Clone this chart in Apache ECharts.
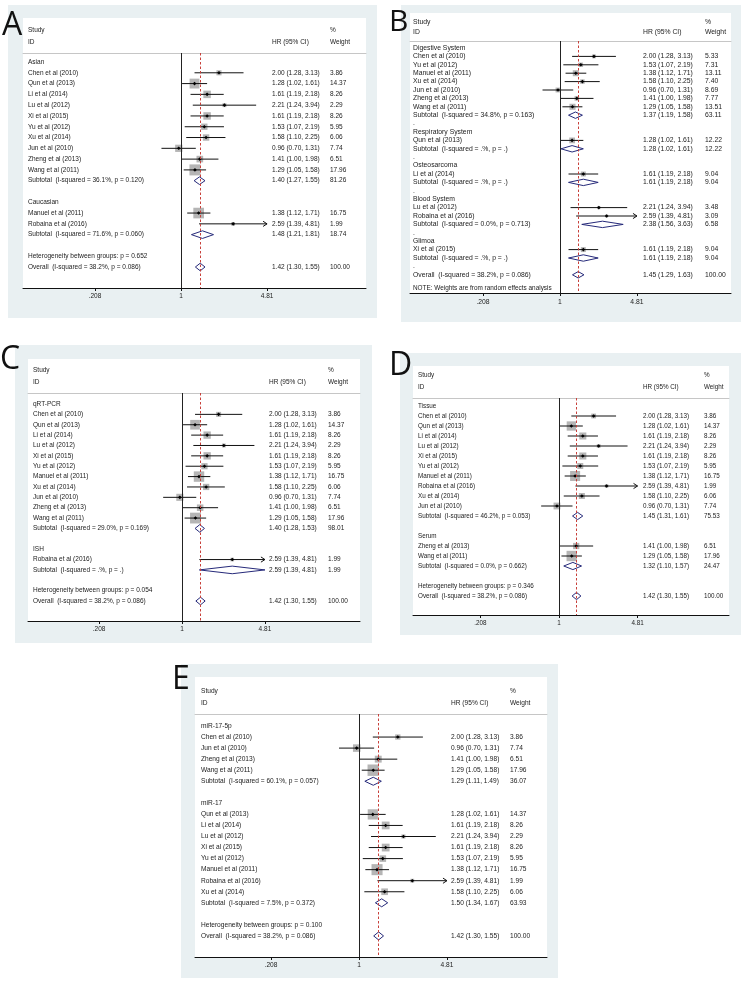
<!DOCTYPE html>
<html><head><meta charset="utf-8">
<script src="https://cdn.jsdelivr.net/npm/echarts/dist/echarts.min.js"></script>
<style>html,body{margin:0;padding:0;background:#fff}#c{width:741px;height:989px}</style>
</head><body><div id="c"></div>
<script>
// ---------- DATA ----------
const tickValues = [0.2079, 1, 4.81];
const tickLabels = ['.208', '1', '4.81'];
const clipHR = 4.81;

// Panel A – ethnicity
const aLabels = ['Asian','Chen et al (2010)','Qun et al (2013)','Li et al (2014)','Lu et al (2012)','Xi et al (2015)','Yu et al (2012)','Xu et al (2014)','Jun et al (2010)','Zheng et al (2013)','Wang et al (2011)','Subtotal  (I-squared = 36.1%, p = 0.120)','','Caucasian','Manuel et al (2011)','Robaina et al (2016)','Subtotal  (I-squared = 71.6%, p = 0.060)','','Heterogeneity between groups: p = 0.652','Overall  (I-squared = 38.2%, p = 0.086)'];
const aHR = [null,2.00,1.28,1.61,2.21,1.61,1.53,1.58,0.96,1.41,1.29,1.40,null,null,1.38,2.59,1.48,null,null,1.42];
const aLo = [null,1.28,1.02,1.19,1.24,1.19,1.07,1.10,0.70,1.00,1.05,1.27,null,null,1.12,1.39,1.21,null,null,1.30];
const aHi = [null,3.13,1.61,2.18,3.94,2.18,2.19,2.25,1.31,1.98,1.58,1.55,null,null,1.71,4.81,1.81,null,null,1.55];
const aW  = [null,3.86,14.37,8.26,2.29,8.26,5.95,6.06,7.74,6.51,17.96,81.26,null,null,16.75,1.99,18.74,null,null,100.00];

// Panel B – cancer system
const bLabels = ['Digestive System','Chen et al (2010)','Yu et al (2012)','Manuel et al (2011)','Xu et al (2014)','Jun et al (2010)','Zheng et al (2013)','Wang et al (2011)','Subtotal  (I-squared = 34.8%, p = 0.163)','.','Respiratory System','Qun et al (2013)','Subtotal  (I-squared = .%, p = .)','.','Osteosarcoma','Li et al (2014)','Subtotal  (I-squared = .%, p = .)','.','Blood System','Lu et al (2012)','Robaina et al (2016)','Subtotal  (I-squared = 0.0%, p = 0.713)','.','Glimoa','Xi et al (2015)','Subtotal  (I-squared = .%, p = .)','.','Overall  (I-squared = 38.2%, p = 0.086)'];
const bHR = [null,2.00,1.53,1.38,1.58,0.96,1.41,1.29,1.37,null,null,1.28,1.28,null,null,1.61,1.61,null,null,2.21,2.59,2.38,null,null,1.61,1.61,null,1.45];
const bLo = [null,1.28,1.07,1.12,1.10,0.70,1.00,1.05,1.19,null,null,1.02,1.02,null,null,1.19,1.19,null,null,1.24,1.39,1.56,null,null,1.19,1.19,null,1.29];
const bHi = [null,3.13,2.19,1.71,2.25,1.31,1.98,1.58,1.58,null,null,1.61,1.61,null,null,2.18,2.18,null,null,3.94,4.81,3.63,null,null,2.18,2.18,null,1.63];
const bW  = [null,5.33,7.31,13.11,7.40,8.69,7.77,13.51,63.11,null,null,12.22,12.22,null,null,9.04,9.04,null,null,3.48,3.09,6.58,null,null,9.04,9.04,null,100.00];
const bNote = 'NOTE: Weights are from random effects analysis';

// Panel C – detection method
const cLabels = ['qRT-PCR','Chen et al (2010)','Qun et al (2013)','Li et al (2014)','Lu et al (2012)','Xi et al (2015)','Yu et al (2012)','Manuel et al (2011)','Xu et al (2014)','Jun et al (2010)','Zheng et al (2013)','Wang et al (2011)','Subtotal  (I-squared = 29.0%, p = 0.169)','','ISH','Robaina et al (2016)','Subtotal  (I-squared = .%, p = .)','','Heterogeneity between groups: p = 0.054','Overall  (I-squared = 38.2%, p = 0.086)'];
const cHR = [null,2.00,1.28,1.61,2.21,1.61,1.53,1.38,1.58,0.96,1.41,1.29,1.40,null,null,2.59,2.59,null,null,1.42];
const cLo = [null,1.28,1.02,1.19,1.24,1.19,1.07,1.12,1.10,0.70,1.00,1.05,1.28,null,null,1.39,1.39,null,null,1.30];
const cHi = [null,3.13,1.61,2.18,3.94,2.18,2.19,1.71,2.25,1.31,1.98,1.58,1.53,null,null,4.81,4.81,null,null,1.55];
const cW  = [null,3.86,14.37,8.26,2.29,8.26,5.95,16.75,6.06,7.74,6.51,17.96,98.01,null,null,1.99,1.99,null,null,100.00];

// Panel D – sample type
const dLabels = ['Tissue','Chen et al (2010)','Qun et al (2013)','Li et al (2014)','Lu et al (2012)','Xi et al (2015)','Yu et al (2012)','Manuel et al (2011)','Robaina et al (2016)','Xu et al (2014)','Jun et al (2010)','Subtotal  (I-squared = 46.2%, p = 0.053)','','Serum','Zheng et al (2013)','Wang et al (2011)','Subtotal  (I-squared = 0.0%, p = 0.662)','','Heterogeneity between groups: p = 0.346','Overall  (I-squared = 38.2%, p = 0.086)'];
const dHR = [null,2.00,1.28,1.61,2.21,1.61,1.53,1.38,2.59,1.58,0.96,1.45,null,null,1.41,1.29,1.32,null,null,1.42];
const dLo = [null,1.28,1.02,1.19,1.24,1.19,1.07,1.12,1.39,1.10,0.70,1.31,null,null,1.00,1.05,1.10,null,null,1.30];
const dHi = [null,3.13,1.61,2.18,3.94,2.18,2.19,1.71,4.81,2.25,1.31,1.61,null,null,1.98,1.58,1.57,null,null,1.55];
const dW  = [null,3.86,14.37,8.26,2.29,8.26,5.95,16.75,1.99,6.06,7.74,75.53,null,null,6.51,17.96,24.47,null,null,100.00];

// Panel E – miRNA type
const eLabels = ['miR-17-5p','Chen et al (2010)','Jun et al (2010)','Zheng et al (2013)','Wang et al (2011)','Subtotal  (I-squared = 60.1%, p = 0.057)','','miR-17','Qun et al (2013)','Li et al (2014)','Lu et al (2012)','Xi et al (2015)','Yu et al (2012)','Manuel et al (2011)','Robaina et al (2016)','Xu et al (2014)','Subtotal  (I-squared = 7.5%, p = 0.372)','','Heterogeneity between groups: p = 0.100','Overall  (I-squared = 38.2%, p = 0.086)'];
const eHR = [null,2.00,0.96,1.41,1.29,1.29,null,null,1.28,1.61,2.21,1.61,1.53,1.38,2.59,1.58,1.50,null,null,1.42];
const eLo = [null,1.28,0.70,1.00,1.05,1.11,null,null,1.02,1.19,1.24,1.19,1.07,1.12,1.39,1.10,1.34,null,null,1.30];
const eHi = [null,3.13,1.31,1.98,1.58,1.49,null,null,1.61,2.18,3.94,2.18,2.19,1.71,4.81,2.25,1.67,null,null,1.55];
const eW  = [null,3.86,7.74,6.51,17.96,36.07,null,null,14.37,8.26,2.29,8.26,5.95,16.75,1.99,6.06,63.93,null,null,100.00];

// ---------- LAYOUT ----------
const panels = [
  {letter:'A', labels:aLabels, hr:aHR, lo:aLo, hi:aHi, w:aW,
   g:{bg:[8,5,377,318], white:[23,18,366,288], headerLine:53, row0:62, step:10.79, x1:181, ppl:54.8, font:6.5, sq:2.6, dh:3.8,
      studyY:30, idY:42, hrX:272, wX:330, nameX:28, tickMargin:5, letter:[2,10,32]}},
  {letter:'B', labels:bLabels, hr:bHR, lo:bLo, hi:bHi, w:bW, note:bNote,
   g:{bg:[401,5,741,322], white:[410,13,731,293], headerLine:41, row0:48, step:8.4, x1:560, ppl:49, font:6.8, sq:1.65, dh:3.2,
      studyY:22, idY:32, hrX:643, wX:705, nameX:413, tickMargin:6, noteY:288, letter:[389,7,30]}},
  {letter:'C', labels:cLabels, hr:cHR, lo:cLo, hi:cHi, w:cW,
   g:{bg:[15,345,372,643], white:[28,359,360,621], headerLine:393, row0:404, step:10.37, x1:182, ppl:52.8, font:6.5, sq:2.55, dh:3.8,
      studyY:370, idY:382, hrX:269, wX:328, nameX:33, tickMargin:5, letter:[0,344,32]}},
  {letter:'D', labels:dLabels, hr:dHR, lo:dLo, hi:dHi, w:dW,
   g:{bg:[400,353,741,635], white:[413,366,729,615], headerLine:398, row0:406, step:10.0, x1:559, ppl:50, font:6.3, sq:2.45, dh:3.6,
      studyY:375, idY:387, hrX:643, wX:704, nameX:418, tickMargin:5, letter:[389,350,32]}},
  {letter:'E', labels:eLabels, hr:eHR, lo:eLo, hi:eHi, w:eW,
   g:{bg:[181,664,558,978], white:[195,677,547,957], headerLine:714, row0:726, step:11.05, x1:359, ppl:56, font:6.6, sq:2.7, dh:4,
      studyY:691, idY:703, hrX:451, wX:510, nameX:201, tickMargin:5, letter:[172,664,32]}}
];

const W = 741, H = 989;
const FONT = '"Liberation Sans", Arial, Helvetica, sans-serif';
const TXT = '#222';
const option = {animation:false, grid:[], xAxis:[], yAxis:[], series:[], graphic:[]};

function tickLabel(v){
  let best = 0, bd = Infinity;
  tickValues.forEach((t,i)=>{ const d = Math.abs(Math.log(v) - Math.log(t)); if (d < bd){bd = d; best = i;} });
  return tickLabels[best];
}

panels.forEach((p, k) => {
  const g = p.g;
  const [wx0, wy0, wx1, wy1] = g.white;
  const [bx0, by0, bx1, by1] = g.bg;

  // backgrounds
  option.graphic.push({type:'rect', z:-20, shape:{x:bx0, y:by0, width:bx1-bx0, height:by1-by0}, style:{fill:'#e9f0f2'}});
  option.graphic.push({type:'rect', z:-19, shape:{x:wx0, y:wy0, width:wx1-wx0, height:wy1-wy0}, style:{fill:'#ffffff'}});
  // panel letter
  option.graphic.push({type:'text', z:50, x:g.letter[0], y:g.letter[1],
    style:{text:p.letter, font:'normal ' + g.letter[2] + 'px "Open Sans", "Liberation Sans", sans-serif', fill:'#111', align:'left', verticalAlign:'top'}});
  // header texts
  const hf = 'normal ' + g.font + 'px ' + FONT;
  const hdr = [['Study', g.nameX, g.studyY], ['ID', g.nameX, g.idY], ['HR (95% CI)', g.hrX, g.idY], ['%', g.wX, g.studyY], ['Weight', g.wX, g.idY]];
  hdr.forEach(h => option.graphic.push({type:'text', z:50, x:h[1], y:h[2], style:{text:h[0], font:hf, fill:TXT, align:'left', verticalAlign:'middle'}}));
  if (p.note) option.graphic.push({type:'text', z:50, x:g.nameX, y:g.noteY, style:{text:p.note, font:'normal ' + (g.font - 0.4) + 'px ' + FONT, fill:TXT, align:'left', verticalAlign:'middle'}});

  option.grid.push({left:wx0, right:W - wx1, top:g.headerLine, bottom:H - wy1, containLabel:false});
  const xmin = Math.exp((wx0 - g.x1) / g.ppl), xmax = Math.exp((wx1 - g.x1) / g.ppl);
  const xBase = option.xAxis.length;
  option.xAxis.push({gridIndex:k, type:'log', logBase:4.81, min:xmin, max:xmax, position:'bottom',
    axisLine:{onZero:false, lineStyle:{color:'#111', width:1}},
    axisTick:{show:true, customValues:tickValues, length:3, lineStyle:{color:'#111', width:1}},
    axisLabel:{customValues:tickValues, formatter:tickLabel, margin:g.tickMargin, fontSize:g.font, fontFamily:FONT, color:TXT},
    splitLine:{show:false}, minorTick:{show:false}});
  option.xAxis.push({gridIndex:k, type:'log', logBase:4.81, min:xmin, max:xmax, position:'top',
    axisLine:{onZero:false, lineStyle:{color:'#c6c6c6', width:1}}, axisTick:{show:false}, axisLabel:{show:false}, splitLine:{show:false}});

  const ymin = -(g.row0 - g.headerLine) / g.step, ymax = (wy1 - g.row0) / g.step;
  const hrText = p.hr.map((v,i) => v == null ? '' : v.toFixed(2) + ' (' + p.lo[i].toFixed(2) + ', ' + p.hi[i].toFixed(2) + ')');
  const wText = p.w.map(v => v == null ? '' : v.toFixed(2));
  const cols = [
    {texts:p.labels, position:'left', inside:true, margin:g.nameX - wx0, offset:0},
    {texts:hrText, position:'right', inside:false, margin:0, offset:-(wx1 - g.hrX)},
    {texts:wText, position:'right', inside:false, margin:0, offset:-(wx1 - g.wX)}
  ];
  const yBase = option.yAxis.length;
  cols.forEach(c => {
    const idx = [];
    c.texts.forEach((t,i) => { if (t) idx.push(i); });
    option.yAxis.push({gridIndex:k, type:'value', inverse:true, min:ymin, max:ymax, position:c.position, offset:c.offset,
      axisLine:{show:false, onZero:false}, axisTick:{show:false}, splitLine:{show:false},
      axisLabel:{inside:c.inside, align:'left', margin:c.margin, customValues:idx,
        formatter:(v) => c.texts[Math.round(v)] || '', fontSize:g.font, fontFamily:FONT, color:TXT}});
  });

  const data = [];
  p.hr.forEach((v,i) => {
    if (v == null) return;
    const pooled = /^(Subtotal|Overall)/.test(p.labels[i]) ? 1 : 0;
    data.push([v, i, p.lo[i], p.hi[i], p.w[i], pooled]);
  });
  const overall = p.hr[p.hr.length - 1];

  option.series.push({
    type:'custom', xAxisIndex:xBase, yAxisIndex:yBase, clip:false,
    dimensions:['hr','row','lo','hi','w','pooled'],
    encode:{x:[0,2,3], y:1},
    data:data,
    renderItem:(params, api) => {
      const hr = api.value(0), row = api.value(1), lo = api.value(2), hi = api.value(3), w = api.value(4), pooled = api.value(5);
      const pc = api.coord([hr, row]);
      const pl = api.coord([lo, row]);
      const hiC = Math.min(hi, clipHR);
      const ph = api.coord([hiC, row]);
      const y = pc[1];
      if (pooled === 1) {
        return {type:'polygon', shape:{points:[[pl[0],y],[pc[0],y-g.dh],[ph[0],y],[pc[0],y+g.dh]]},
          style:{fill:'none', stroke:'#262a7a', lineWidth:1}};
      }
      const s = g.sq * Math.sqrt(w);
      const children = [
        {type:'rect', shape:{x:pc[0]-s/2, y:y-s/2, width:s, height:s}, style:{fill:'#b5b5b5'}},
        {type:'line', shape:{x1:pl[0], y1:y, x2:ph[0], y2:y}, style:{stroke:'#111', lineWidth:1}},
        {type:'polygon', shape:{points:[[pc[0]-1.8,y],[pc[0],y-1.8],[pc[0]+1.8,y],[pc[0],y+1.8]]}, style:{fill:'#000'}}
      ];
      if (hi >= clipHR) {
        children.push({type:'polyline', shape:{points:[[ph[0]-4,y-2.6],[ph[0],y],[ph[0]-4,y+2.6]]}, style:{stroke:'#111', fill:'none', lineWidth:1}});
      }
      return {type:'group', children:children};
    },
    markLine:{silent:true, symbol:['none','none'], label:{show:false},
      data:[
        {xAxis:1, lineStyle:{color:'#222', type:'solid', width:1}},
        {xAxis:overall, lineStyle:{color:'#c8403a', type:[2.5,2], width:1}}
      ]}
  });
});

const chart = echarts.init(document.getElementById('c'), null, {renderer:'canvas'});
chart.setOption(option);
</script>
</body></html>
